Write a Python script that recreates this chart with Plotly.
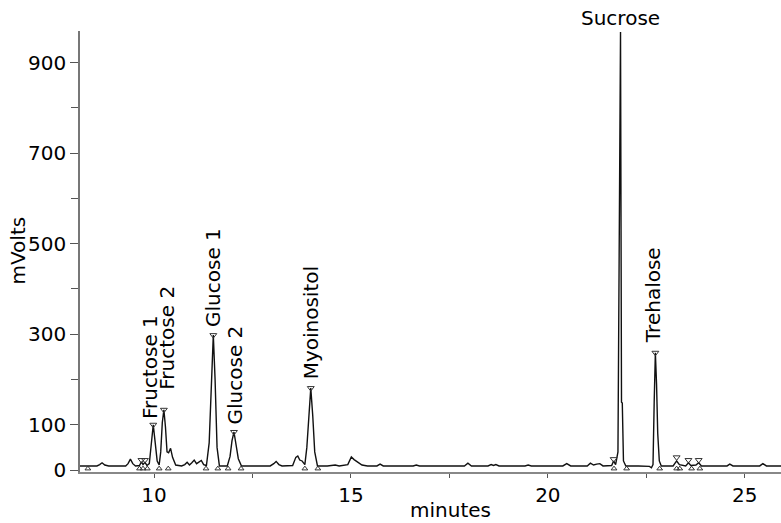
import plotly.graph_objects as go

# ---- chromatogram trace ----
time_min = [
    8.12, 8.55, 8.62, 8.68, 8.75, 8.85,
    9.28, 9.34, 9.40, 9.46, 9.53,
    9.63, 9.68, 9.72, 9.77, 9.82,
    9.88, 9.93, 9.98, 10.03, 10.08, 10.13,
    10.17, 10.21, 10.25, 10.29, 10.33,
    10.37, 10.42, 10.47, 10.55,
    10.70, 10.78, 10.84, 10.90, 10.96, 11.02, 11.08, 11.14, 11.20, 11.26, 11.33,
    11.40, 11.46, 11.505, 11.55, 11.60, 11.66,
    11.86, 11.93, 11.98, 12.03, 12.08, 12.14, 12.22,
    12.95, 13.04, 13.10, 13.17, 13.25,
    13.52, 13.60, 13.65, 13.70, 13.76, 13.83,
    13.88, 13.94, 13.98, 14.03, 14.08, 14.15,
    14.40, 14.60, 14.70, 14.92, 15.01, 15.08, 15.18, 15.28, 15.42,
    15.66, 15.74, 15.82,
    16.58, 16.66, 16.74,
    17.88, 17.97, 18.06,
    18.48, 18.56, 18.62, 18.68, 18.76,
    19.42, 19.50, 19.58,
    20.38, 20.48, 20.58,
    21.00, 21.08, 21.16, 21.24, 21.32, 21.40,
    21.62, 21.67, 21.72, 21.78, 21.81, 21.845, 21.87, 21.89, 21.92, 21.98,
    22.30, 22.58, 22.63, 22.67, 22.70, 22.73, 22.76, 22.79, 22.83, 22.88,
    23.18, 23.27, 23.34, 23.50, 23.57, 23.63, 23.76, 23.83, 23.90,
    24.20, 24.30, 24.55, 24.62, 24.70, 25.00, 25.38, 25.46, 25.55, 25.92,
]
signal_mv = [
    9, 9, 12, 16, 11, 9,
    9, 14, 24, 14, 9,
    10, 18, 12, 17, 10,
    14, 55, 100, 60, 20, 11,
    40, 105, 133, 95, 40,
    38, 48, 28, 11,
    9, 12, 17, 11, 16, 22, 14, 18, 21, 12, 10,
    60, 210, 298, 200, 50, 9,
    9, 30, 65, 84, 60, 25, 9,
    9, 14, 19, 12, 9,
    10, 28, 31, 22, 20, 12,
    50, 140, 181, 120, 40, 9,
    9, 11, 9, 12, 29, 23, 16, 11, 9,
    9, 13, 9,
    9, 11, 9,
    9, 15, 9,
    9, 12, 10, 12, 9,
    9, 11, 9,
    9, 14, 9,
    9, 15, 11, 13, 14, 9,
    10, 20, 12, 40, 500, 968, 150, 148, 20, 9,
    9, 8, 5, 12, 150, 259, 190, 81, 20, 9,
    9, 20, 12, 9, 16, 10, 11, 16, 9,
    10, 9, 9, 13, 9, 9, 9, 14, 9, 9,
]

# ---- named peaks ----
peak_names = ["Fructose 1", "Fructose 2", "Glucose 1", "Glucose 2",
              "Myoinositol", "Sucrose", "Trehalose"]
peak_times = [9.98, 10.25, 11.505, 12.03, 13.98, 21.845, 22.73]
peak_heights = [100, 133, 298, 84, 181, 968, 259]

# small unlabeled integration marks
minor_apex_times = [9.68, 9.77, 21.67, 23.27, 23.57, 23.83]
minor_apex_mv = [22, 22, 24, 28, 22, 22]
base_mark_times = [8.32, 9.63, 9.72, 9.83, 10.13, 10.36, 11.32, 11.62, 11.88,
                   12.21, 13.83, 14.16, 21.68, 22.00, 22.84, 23.27, 23.35,
                   23.65, 23.86]
base_mark_mv = [3] * len(base_mark_times)

x_ticks = [10, 15, 20, 25]
x_minor = [12.5, 17.5, 22.5]
y_ticks = [0, 100, 300, 500, 700, 900]
y_minor = [200, 400, 600, 800]

FONT = "DejaVu Sans"
FS = 20

fig = go.Figure()
fig.add_trace(go.Scatter(x=time_min, y=signal_mv, mode="lines",
                         line=dict(color="#111111", width=1.4),
                         showlegend=False, hoverinfo="skip"))
fig.add_trace(go.Scatter(x=peak_times[:5] + peak_times[6:] + minor_apex_times,
                         y=peak_heights[:5] + peak_heights[6:] + minor_apex_mv,
                         mode="markers",
                         marker=dict(symbol="triangle-down-open", size=6,
                                     color="#333333", line=dict(width=1)),
                         showlegend=False, hoverinfo="skip"))
fig.add_trace(go.Scatter(x=base_mark_times, y=base_mark_mv, mode="markers",
                         marker=dict(symbol="triangle-up-open", size=5,
                                     color="#333333", line=dict(width=1)),
                         showlegend=False, hoverinfo="skip"))

# label placement styles (per peak): rotation, shifts
label_angle = [-90, -90, -90, -90, -90, 0, -90]
label_xshift = [-4, 3, -1, 2, 0, 0, -3]
label_yshift = [4, 18, 6, 6, 7, 0, 8]

for name, t, h, ang, xs, ys in zip(peak_names, peak_times, peak_heights,
                                   label_angle, label_xshift, label_yshift):
    fig.add_annotation(x=t, y=h, text=name, showarrow=False,
                       textangle=ang, xanchor="center", yanchor="bottom",
                       xshift=xs, yshift=ys,
                       font=dict(family=FONT, size=FS, color="black"))

fig.add_annotation(xref="paper", yref="paper", x=-0.088, y=0.503,
                   text="mVolts", textangle=-90, showarrow=False,
                   xanchor="center", yanchor="middle",
                   font=dict(family=FONT, size=FS, color="black"))
fig.add_annotation(xref="paper", yref="paper", x=0.528, y=-0.086,
                   text="minutes", showarrow=False,
                   xanchor="center", yanchor="middle",
                   font=dict(family=FONT, size=FS, color="black"))

fig.update_layout(
    width=781, height=523,
    margin=dict(l=80, r=0, t=31, b=51),
    plot_bgcolor="white", paper_bgcolor="white",
    font=dict(family=FONT, size=FS, color="black"),
    xaxis=dict(range=[8.12, 25.92], tickmode="array", tickvals=x_ticks,
               ticks="outside", ticklen=4, tickcolor="#555555",
               showline=True, linecolor="#888888", linewidth=2,
               showgrid=False, zeroline=False,
               minor=dict(tickmode="array", tickvals=x_minor, ticks="outside",
                          ticklen=4, tickcolor="#555555"),
               tickfont=dict(family=FONT, size=FS, color="black")),
    yaxis=dict(range=[-4.4, 970], tickmode="array", tickvals=y_ticks,
               ticks="outside", ticklen=8, tickcolor="#555555",
               showline=True, linecolor="#777777", linewidth=1.5,
               showgrid=False, zeroline=False,
               minor=dict(tickmode="array", tickvals=y_minor, ticks="outside",
                          ticklen=7, tickcolor="#555555"),
               tickfont=dict(family=FONT, size=FS, color="black")),
)

fig.write_html("out.html",
               config={"displayModeBar": False},
               post_script="document.body.style.margin='0';"
                           "document.body.style.overflow='hidden';")
